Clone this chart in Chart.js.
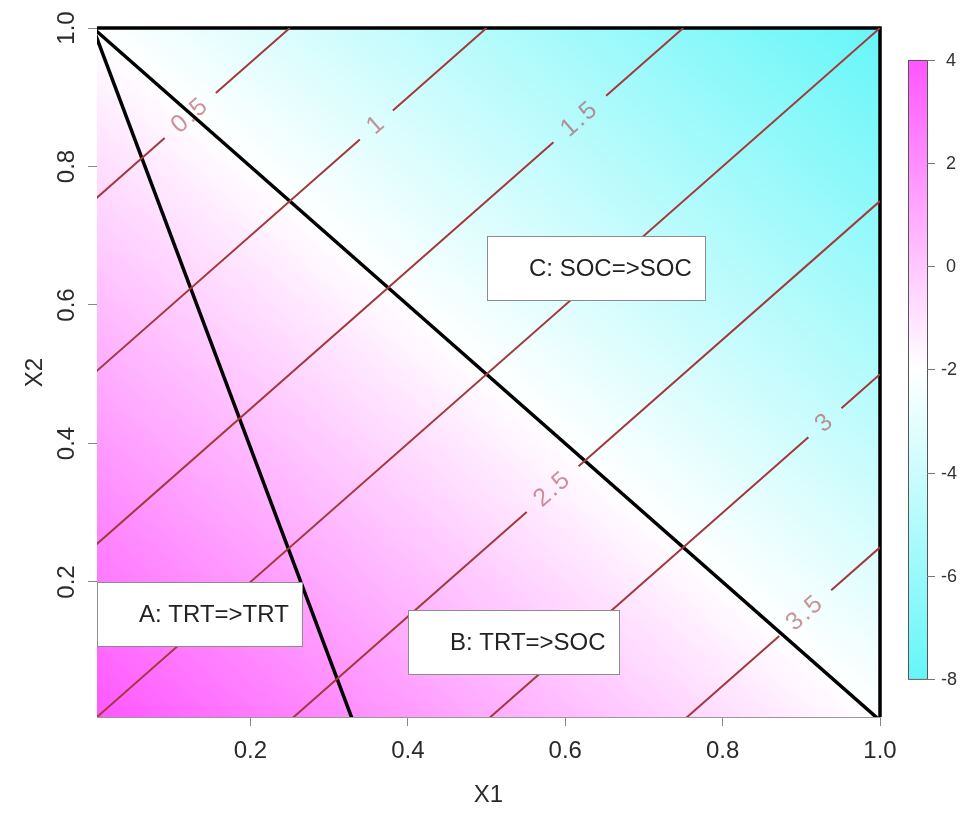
<!DOCTYPE html>
<html>
<head>
<meta charset="utf-8">
<script src="https://cdn.jsdelivr.net/npm/chart.js@4.4.1/dist/chart.umd.min.js"></script>
<style>
  html, body { margin: 0; padding: 0; background: #fff; }
  canvas { display: block; }
</style>
</head>
<body>
<canvas id="chart" width="970" height="815"></canvas>
<script>
const tickValues = [0.2, 0.4, 0.6, 0.8, 1.0]

// colour key on the right
const colorbarTicks = [4, 2, 0, -2, -4, -6, -8]
const colorbarStops = [4, -2, -8]
const colorbarColors = ['#ff55ff', '#ffffff', '#66f6f8']
// shaded surface value at X1=X2=0 and at X1=X2=1
const surfaceLow = 4
const surfaceHigh = -8

// contour lines, each with the gap where its label sits
const contourLevels = ['0.5', '1', '1.5', '2', '2.5', '3', '3.5']
const contourStart = [[0, 0.75], [0, 0.5], [0, 0.25], [0, 0], [0.25, 0], [0.5, 0], [0.75, 0]]
const contourEnd = [[0.25, 1], [0.5, 1], [0.75, 1], [1, 1], [1, 0.75], [1, 0.5], [1, 0.25]]
const labelFrom = [[0.091, 0.841], [0.339, 0.839], [0.585, 0.835], null, [0.551, 0.301], [0.909, 0.409], [0.872, 0.122]]
const labelTo = [[0.156, 0.906], [0.381, 0.881], [0.652, 0.902], null, [0.617, 0.367], [0.951, 0.451], [0.938, 0.188]]

// region boundaries
const boundaryA = [[0, 1], [0.33, 0]]
const boundaryB = [[0, 1], [1, 0]]
const boundaryC = [[0, 1], [1, 1], [1, 0]]

// region boxes (top-left corner in data units)
const regionLabels = ['A: TRT=>TRT', 'B: TRT=>SOC', 'C: SOC=>SOC']
const regionX1 = [0.005, 0.4, 0.5]
const regionX2 = [0.2, 0.16, 0.7]

const FONT = '"Liberation Sans", Arial, Helvetica, sans-serif'
Chart.defaults.font.family = FONT

const pt = (p) => ({ x: p[0], y: p[1] })

const contourSets = contourLevels.map((lvl, i) => {
  const pts = [pt(contourStart[i])]
  if (labelFrom[i]) {
    pts.push(pt(labelFrom[i]), { x: labelFrom[i][0], y: null }, pt(labelTo[i]))
  }
  pts.push(pt(contourEnd[i]))
  return {
    label: 'contour ' + lvl,
    data: pts,
    showLine: true,
    spanGaps: false,
    borderColor: '#a3393b',
    borderWidth: 2,
    pointRadius: 0,
    clip: 0,
  }
})

const boundarySet = (name, pts) => ({
  label: name,
  data: pts.map(pt),
  showLine: true,
  borderColor: '#000',
  borderWidth: 3.5,
  pointRadius: 0,
  clip: { left: 0, top: 3, right: 3, bottom: 0 },
})

const surfacePlugin = {
  id: 'surface',
  beforeDatasetsDraw(chart) {
    const { ctx, chartArea, scales: { x, y } } = chart
    const x0 = x.getPixelForValue(0)
    const y0 = y.getPixelForValue(0)
    const w = x.getPixelForValue(1) - x0
    const h = y0 - y.getPixelForValue(1)
    const n = Math.hypot(w, h)
    const len = (2 * w * h) / n
    const g = ctx.createLinearGradient(x0, y0, x0 + (h / n) * len, y0 - (w / n) * len)
    colorbarStops.forEach((v, i) => {
      g.addColorStop((surfaceLow - v) / (surfaceLow - surfaceHigh), colorbarColors[i])
    })
    ctx.save()
    ctx.fillStyle = g
    ctx.fillRect(chartArea.left, chartArea.top, chartArea.width, chartArea.height)
    ctx.restore()
  },
}

const labelPlugin = {
  id: 'annotations',
  afterDatasetsDraw(chart) {
    const { ctx, scales: { x, y } } = chart
    // contour labels
    ctx.save()
    ctx.font = '25px ' + FONT
    ctx.letterSpacing = '2px'
    ctx.fillStyle = 'rgba(165, 60, 65, 0.55)'
    ctx.textAlign = 'center'
    ctx.textBaseline = 'middle'
    contourLevels.forEach((lvl, i) => {
      if (!labelFrom[i]) return
      const ax = x.getPixelForValue(labelFrom[i][0])
      const ay = y.getPixelForValue(labelFrom[i][1])
      const bx = x.getPixelForValue(labelTo[i][0])
      const by = y.getPixelForValue(labelTo[i][1])
      ctx.save()
      ctx.translate((ax + bx) / 2, (ay + by) / 2)
      ctx.rotate(Math.atan2(by - ay, bx - ax))
      ctx.fillText(lvl, 0, 0)
      ctx.restore()
    })
    ctx.restore()

    // region boxes
    ctx.save()
    ctx.font = '24px ' + FONT
    ctx.textBaseline = 'middle'
    regionLabels.forEach((t, i) => {
      const bx = Math.round(x.getPixelForValue(regionX1[i]))
      const by = Math.round(y.getPixelForValue(regionX2[i]))
      const bw = Math.round(ctx.measureText(t).width + 55)
      const bh = 64
      ctx.fillStyle = '#fff'
      ctx.fillRect(bx, by, bw, bh)
      ctx.strokeStyle = '#8c8c8c'
      ctx.lineWidth = 1
      ctx.strokeRect(bx + 0.5, by + 0.5, bw, bh)
      ctx.fillStyle = '#222'
      ctx.fillText(t, bx + 42, by + bh / 2 + 1)
    })
    ctx.restore()
  },
  afterDraw(chart) {
    const { ctx, scales: { cb } } = chart
    const left = 908
    const width = 19
    const top = cb.getPixelForValue(colorbarTicks[0])
    const bottom = cb.getPixelForValue(colorbarTicks[colorbarTicks.length - 1])
    const g = ctx.createLinearGradient(0, top, 0, bottom)
    colorbarStops.forEach((v, i) => {
      g.addColorStop((surfaceLow - v) / (surfaceLow - surfaceHigh), colorbarColors[i])
    })
    ctx.save()
    ctx.fillStyle = g
    ctx.fillRect(left, top, width, bottom - top)
    ctx.strokeStyle = '#555'
    ctx.lineWidth = 1
    ctx.strokeRect(left + 0.5, top + 0.5, width, bottom - top)
    ctx.font = '18px ' + FONT
    ctx.fillStyle = '#333'
    ctx.textBaseline = 'middle'
    ctx.strokeStyle = '#777'
    colorbarTicks.forEach((v) => {
      const py = Math.round(cb.getPixelForValue(v)) + 0.5
      ctx.beginPath()
      ctx.moveTo(left + width, py)
      ctx.lineTo(left + width + 8, py)
      ctx.stroke()
      ctx.fillText(String(v), v < 0 ? 941 : 946, py + 1)
    })
    ctx.restore()
  },
}

const setTicks = (scale) => {
  scale.ticks = tickValues.map((v) => ({ value: v }))
}

new Chart(document.getElementById('chart'), {
  type: 'scatter',
  data: {
    datasets: [
      ...contourSets,
      boundarySet('A', boundaryA),
      boundarySet('B', boundaryB),
      boundarySet('C', boundaryC),
    ],
  },
  options: {
    responsive: false,
    animation: false,
    devicePixelRatio: 1,
    events: [],
    layout: { padding: { top: 28, right: 90, left: 0, bottom: 0 } },
    plugins: { legend: { display: false }, tooltip: { enabled: false } },
    scales: {
      x: {
        type: 'linear',
        position: 'bottom',
        min: 0.005,
        max: 1,
        afterBuildTicks: setTicks,
        afterFit: (s) => { s.height = 98 },
        ticks: {
          maxRotation: 0,
          padding: 11,
          color: '#2a2a2a',
          font: { size: 24 },
          callback: (v) => v.toFixed(1),
        },
        grid: { drawOnChartArea: false, tickLength: 9, tickColor: '#888' },
        border: { color: '#999', width: 1 },
        title: {
          display: true,
          text: 'X1',
          color: '#2a2a2a',
          font: { size: 24, lineHeight: 1 },
          padding: { top: 0, bottom: 8 },
        },
      },
      y: {
        type: 'linear',
        position: 'left',
        min: 0.005,
        max: 1,
        afterBuildTicks: setTicks,
        afterFit: (s) => { s.width = 97 },
        ticks: {
          minRotation: 90,
          maxRotation: 90,
          crossAlign: 'center',
          padding: 4,
          color: '#2a2a2a',
          font: { size: 24 },
          callback: (v) => v.toFixed(1),
        },
        grid: { drawOnChartArea: false, tickLength: 9, tickColor: '#888' },
        border: { color: '#999', width: 1 },
        title: {
          display: true,
          text: 'X2',
          color: '#2a2a2a',
          font: { size: 24, lineHeight: 1 },
          padding: { top: 23, bottom: 0 },
        },
      },
      cb: {
        type: 'linear',
        position: 'right',
        display: false,
        min: -8.74,
        max: 4.62,
      },
    },
  },
  plugins: [surfacePlugin, labelPlugin],
})
</script>
</body>
</html>
